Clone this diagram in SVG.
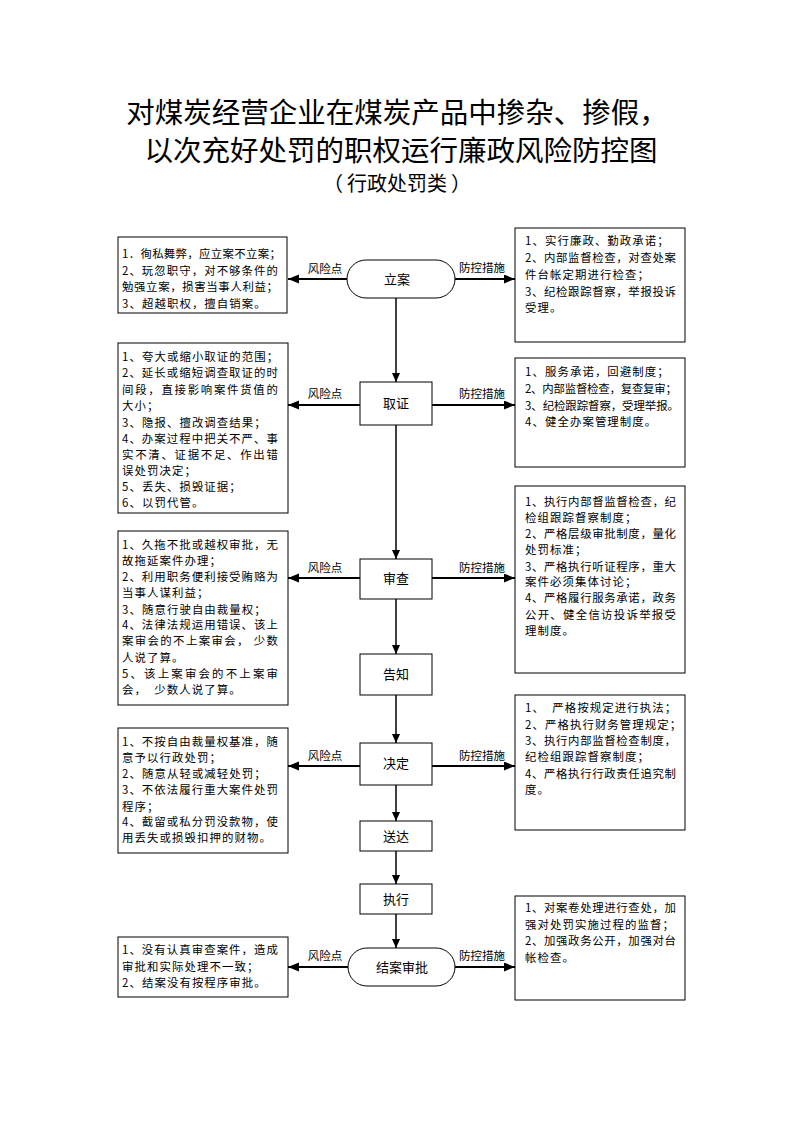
<svg xmlns="http://www.w3.org/2000/svg" width="794" height="1123" viewBox="0 0 794 1123">
<style>
text{font-family:"Noto Sans CJK SC","Noto Sans",sans-serif;fill:#000}
.title{font-size:28.5px;text-anchor:middle}
.sub{font-size:20px;text-anchor:middle}
.t{font-size:11.4px;letter-spacing:1.1px}
.lbl{font-size:11.5px;text-anchor:middle}
.nd{font-size:13px;text-anchor:middle}
.box{fill:#fff;stroke:#000;stroke-width:1}
.node{fill:#fff;stroke:#000;stroke-width:1}
.arr{stroke:#000;stroke-width:2;fill:none;marker-end:url(#ah)}
.varr{stroke:#000;stroke-width:1.5;fill:none;marker-end:url(#ahv)}
</style>
<defs>
<marker id="ah" markerUnits="userSpaceOnUse" markerWidth="12" markerHeight="10" refX="11" refY="4.5" orient="auto"><path d="M0,0 L11,4.5 L0,9 z" fill="#000"/></marker>
<marker id="ahv" markerUnits="userSpaceOnUse" markerWidth="10" markerHeight="10" refX="9" refY="4" orient="auto"><path d="M0,0 L9,4 L0,8 z" fill="#000"/></marker>
</defs>
<rect width="794" height="1123" fill="#fff"/>
<g id="title">
<text class="title" x="397" y="123">对煤炭经营企业在煤炭产品中掺杂、掺假，</text>
<text class="title" x="401" y="161">以次充好处罚的职权运行廉政风险防控图</text>
<text class="sub" x="333" y="191">（</text>
<text class="sub" x="397" y="191">行政处罚类</text>
<text class="sub" x="461" y="191">）</text>
</g>
<g id="connectors">
<line class="varr" x1="396" y1="298" x2="396" y2="382"/>
<line class="varr" x1="396" y1="425" x2="396" y2="559"/>
<line class="varr" x1="396" y1="599" x2="396" y2="654"/>
<line class="varr" x1="396" y1="695" x2="396" y2="743"/>
<line class="varr" x1="396" y1="785" x2="396" y2="821"/>
<line class="varr" x1="396" y1="851" x2="396" y2="884"/>
<line class="varr" x1="396" y1="914" x2="396" y2="948"/>
<line class="arr" x1="347" y1="279" x2="288" y2="279"/>
<line class="arr" x1="455" y1="279" x2="515" y2="279"/>
<line class="arr" x1="360" y1="405" x2="288" y2="405"/>
<line class="arr" x1="432" y1="405" x2="515" y2="405"/>
<line class="arr" x1="360" y1="578" x2="288" y2="578"/>
<line class="arr" x1="432" y1="578" x2="515" y2="578"/>
<line class="arr" x1="360" y1="766" x2="288" y2="766"/>
<line class="arr" x1="432" y1="766" x2="515" y2="766"/>
<line class="arr" x1="348" y1="967" x2="288" y2="967"/>
<line class="arr" x1="455" y1="967" x2="515" y2="967"/>
<text class="lbl" x="325" y="273">风险点</text>
<text class="lbl" x="482" y="272">防控措施</text>
<text class="lbl" x="325" y="398">风险点</text>
<text class="lbl" x="482" y="398">防控措施</text>
<text class="lbl" x="325" y="572">风险点</text>
<text class="lbl" x="482" y="572">防控措施</text>
<text class="lbl" x="325" y="760">风险点</text>
<text class="lbl" x="482" y="760">防控措施</text>
<text class="lbl" x="325" y="960">风险点</text>
<text class="lbl" x="482" y="960">防控措施</text>
</g>
<g id="n-lian">
<rect class="node" x="347" y="260" width="108" height="38" rx="19" ry="19"/>
<text class="nd" x="397" y="284">立案</text>
</g>
<g id="n-quzheng">
<rect class="node" x="360" y="382" width="72" height="43"/>
<text class="nd" x="396" y="408">取证</text>
</g>
<g id="n-shencha">
<rect class="node" x="360" y="559" width="72" height="40"/>
<text class="nd" x="396" y="583">审查</text>
</g>
<g id="n-gaozhi">
<rect class="node" x="360" y="654" width="72" height="41"/>
<text class="nd" x="396" y="679">告知</text>
</g>
<g id="n-jueding">
<rect class="node" x="360" y="743" width="72" height="42"/>
<text class="nd" x="396" y="768">决定</text>
</g>
<g id="n-songda">
<rect class="node" x="360" y="821" width="72" height="30"/>
<text class="nd" x="396" y="841">送达</text>
</g>
<g id="n-zhixing">
<rect class="node" x="360" y="884" width="72" height="30"/>
<text class="nd" x="396" y="904">执行</text>
</g>
<g id="n-jiean">
<rect class="node" x="348" y="948" width="107" height="38" rx="19" ry="19"/>
<text class="nd" x="402" y="972">结案审批</text>
</g>
<g id="risk-1">
<rect class="box" x="118" y="237" width="169" height="76"/>
<text class="t" x="122" y="258" textLength="160" lengthAdjust="spacing">1．徇私舞弊，应立案不立案；</text>
<text class="t" x="122" y="275" textLength="157" lengthAdjust="spacing">2、玩忽职守，对不够条件的</text>
<text class="t" x="122" y="291" textLength="157" lengthAdjust="spacing">勉强立案，损害当事人利益；</text>
<text class="t" x="122" y="308">3、超越职权，擅自销案。</text>
</g>
<g id="ctrl-1">
<rect class="box" x="515" y="228" width="170" height="114"/>
<text class="t" x="525" y="245">1、实行廉政、勤政承诺；</text>
<text class="t" x="525" y="262" textLength="152" lengthAdjust="spacing">2、内部监督检查，对查处案</text>
<text class="t" x="525" y="279">件台帐定期进行检查；</text>
<text class="t" x="525" y="296" textLength="152" lengthAdjust="spacing">3、纪检跟踪督察，举报投诉</text>
<text class="t" x="525" y="312">受理。</text>
</g>
<g id="risk-2">
<rect class="box" x="118" y="343" width="170" height="170"/>
<text class="t" x="122" y="361">1、夸大或缩小取证的范围；</text>
<text class="t" x="122" y="377" textLength="157" lengthAdjust="spacing">2、延长或缩短调查取证的时</text>
<text class="t" x="122" y="394" textLength="157" lengthAdjust="spacing">间段，直接影响案件货值的</text>
<text class="t" x="122" y="410">大小；</text>
<text class="t" x="122" y="427">3、隐报、擅改调查结果；</text>
<text class="t" x="122" y="443" textLength="157" lengthAdjust="spacing">4、办案过程中把关不严、事</text>
<text class="t" x="122" y="459" textLength="157" lengthAdjust="spacing">实不清、证据不足、作出错</text>
<text class="t" x="122" y="475">误处罚决定；</text>
<text class="t" x="122" y="491">5、丢失、损毁证据；</text>
<text class="t" x="122" y="507">6、以罚代管。</text>
</g>
<g id="ctrl-2">
<rect class="box" x="515" y="358" width="170" height="109"/>
<text class="t" x="525" y="376">1、服务承诺，回避制度；</text>
<text class="t" x="525" y="393" textLength="153" lengthAdjust="spacing">2、内部监督检查，复查复审；</text>
<text class="t" x="525" y="410" textLength="155" lengthAdjust="spacing">3、纪检跟踪督察，受理举报。</text>
<text class="t" x="525" y="426">4、健全办案管理制度。</text>
</g>
<g id="risk-3">
<rect class="box" x="118" y="531" width="170" height="174"/>
<text class="t" x="122" y="549" textLength="157" lengthAdjust="spacing">1、久拖不批或越权审批，无</text>
<text class="t" x="122" y="565">故拖延案件办理；</text>
<text class="t" x="122" y="581" textLength="157" lengthAdjust="spacing">2、利用职务便利接受贿赂为</text>
<text class="t" x="122" y="597">当事人谋利益；</text>
<text class="t" x="122" y="614">3、随意行驶自由裁量权；</text>
<text class="t" x="122" y="629" textLength="157" lengthAdjust="spacing">4、法律法规运用错误、该上</text>
<text class="t" x="122" y="645" textLength="157" lengthAdjust="spacing">案审会的不上案审会， 少数</text>
<text class="t" x="122" y="662">人说了算。</text>
<text class="t" x="122" y="678" textLength="157" lengthAdjust="spacing">5、该上案审会的不上案审</text>
<text class="t" x="122" y="694" xml:space="preserve">会，  少数人说了算。</text>
</g>
<g id="ctrl-3">
<rect class="box" x="515" y="486" width="170" height="187"/>
<text class="t" x="525" y="506" textLength="152" lengthAdjust="spacing">1、执行内部督监督检查，纪</text>
<text class="t" x="525" y="522">检组跟踪督察制度；</text>
<text class="t" x="525" y="538" textLength="152" lengthAdjust="spacing">2、严格层级审批制度，量化</text>
<text class="t" x="525" y="554">处罚标准；</text>
<text class="t" x="525" y="571" textLength="152" lengthAdjust="spacing">3、严格执行听证程序，重大</text>
<text class="t" x="525" y="586">案件必须集体讨论；</text>
<text class="t" x="525" y="602" textLength="152" lengthAdjust="spacing">4、严格履行服务承诺，政务</text>
<text class="t" x="525" y="619" textLength="152" lengthAdjust="spacing">公开、健全信访投诉举报受</text>
<text class="t" x="525" y="635">理制度。</text>
</g>
<g id="risk-4">
<rect class="box" x="118" y="728" width="170" height="125"/>
<text class="t" x="122" y="746" textLength="157" lengthAdjust="spacing">1、不按自由裁量权基准，随</text>
<text class="t" x="122" y="762">意予以行政处罚；</text>
<text class="t" x="122" y="778">2、随意从轻或减轻处罚；</text>
<text class="t" x="122" y="794" textLength="157" lengthAdjust="spacing">3、不依法履行重大案件处罚</text>
<text class="t" x="122" y="811">程序；</text>
<text class="t" x="122" y="826" textLength="157" lengthAdjust="spacing">4、截留或私分罚没款物，使</text>
<text class="t" x="122" y="842">用丢失或损毁扣押的财物。</text>
</g>
<g id="ctrl-4">
<rect class="box" x="515" y="695" width="170" height="135"/>
<text class="t" x="525" y="712" xml:space="preserve">1、  严格按规定进行执法；</text>
<text class="t" x="525" y="729">2、严格执行财务管理规定；</text>
<text class="t" x="525" y="745" textLength="152" lengthAdjust="spacing">3、执行内部监督检查制度，</text>
<text class="t" x="525" y="761">纪检组跟踪督察制度；</text>
<text class="t" x="525" y="778" textLength="152" lengthAdjust="spacing">4、严格执行行政责任追究制</text>
<text class="t" x="525" y="794">度。</text>
</g>
<g id="risk-5">
<rect class="box" x="118" y="937" width="170" height="60"/>
<text class="t" x="122" y="954" textLength="157" lengthAdjust="spacing">1、没有认真审查案件，造成</text>
<text class="t" x="122" y="971">审批和实际处理不一致；</text>
<text class="t" x="122" y="987">2、结案没有按程序审批。</text>
</g>
<g id="ctrl-5">
<rect class="box" x="515" y="896" width="170" height="104"/>
<text class="t" x="525" y="912" textLength="152" lengthAdjust="spacing">1、对案卷处理进行查处，加</text>
<text class="t" x="525" y="929">强对处罚实施过程的监督；</text>
<text class="t" x="525" y="945" textLength="152" lengthAdjust="spacing">2、加强政务公开，加强对台</text>
<text class="t" x="525" y="962">帐检查。</text>
</g>
</svg>
